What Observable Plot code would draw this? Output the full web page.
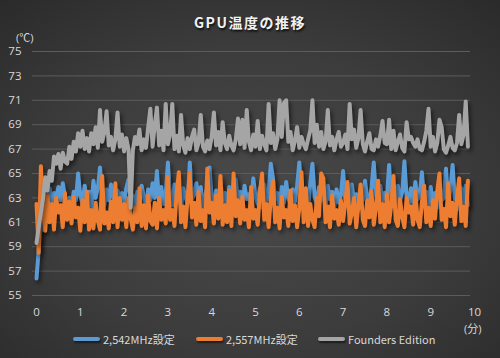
<!DOCTYPE html>
<html><head><meta charset="utf-8">
<script src="https://cdn.jsdelivr.net/npm/d3@7"></script>
<script src="https://cdn.jsdelivr.net/npm/@observablehq/plot@0.6"></script>
<style>
html,body{margin:0;padding:0;}
#wrap{position:relative;width:500px;height:358px;overflow:hidden;
 background:radial-gradient(ellipse 75% 75% at 50% 55%, #4a4a4a 0%, #3c3c3c 55%, #2a2a2a 100%);
 font-family:"Open Sans","Noto Sans CJK JP",sans-serif;color:#d9d9d9;}
#chart{position:absolute;left:0;top:0;}
#title{position:absolute;left:0;width:500px;top:12px;text-align:center;font-size:14px;font-weight:bold;color:#f2f2f2;letter-spacing:1.5px;text-shadow:1px 2px 2px rgba(0,0,0,.7);font-family:"Noto Sans CJK JP",sans-serif;}
.lbl{position:absolute;font-size:11px;color:#d9d9d9;white-space:nowrap;}
.leg{position:absolute;top:331px;font-size:11px;color:#d9d9d9;white-space:nowrap;display:flex;align-items:center;font-family:"Noto Sans CJK JP",sans-serif;}
.sw{display:inline-block;width:27px;height:4px;border-radius:2px;margin-right:3px;box-shadow:1px 2px 2px rgba(0,0,0,.5);}
g[aria-label="line"]{filter:drop-shadow(2px 3px 2px rgba(0,0,0,0.55));}
</style></head>
<body><div id="wrap"><div id="chart"></div><div id="title"></div><div id="unitY" class="lbl" style="left:16px;top:29px;"></div><div id="unitX" class="lbl" style="left:464px;top:320px;"></div><div id="legend"></div></div>
<script>
const titleText = "GPU温度の推移";
const unitYText = "(℃)";
const unitXText = "(分)";
const intervalMin = 0.05; // sampling interval in minutes
const xTicks = [0,1,2,3,4,5,6,7,8,9,10];
const yTicks = [55,57,59,61,63,65,67,69,71,73,75];
const seriesNames = ["2,542MHz設定","2,557MHz設定","Founders Edition"];
const seriesColors = ["#5b9bd5","#ed7d31","#a5a5a5"];

const blue = [
56.4,58.7,60.9,60.4,63.6,62.9,63.8,62.5,63.4,63.0,63.9,62.8,64.2,63.1,62.6,63.0,62.4,63.5,62.8,65.0,
63.2,62.5,64.0,62.8,63.5,62.2,64.4,63.0,63.8,65.5,63.1,62.4,63.7,62.8,64.1,63.0,62.5,63.6,62.9,63.4,
62.6,63.8,64.5,62.9,63.2,62.0,63.5,62.7,64.0,63.1,62.4,63.7,62.8,64.2,63.0,65.2,62.6,63.9,62.5,63.3,
65.9,63.0,62.4,64.1,62.7,63.5,62.2,63.8,63.1,62.5,65.9,62.9,63.3,64.2,62.6,63.9,62.3,63.1,64.0,65.5,
63.0,62.4,63.6,62.1,64.3,62.8,63.4,62.0,63.9,62.6,63.2,64.5,62.7,63.5,62.2,64.0,62.9,63.3,62.5,64.6,
63.1,62.5,63.8,62.2,64.1,62.8,63.5,65.8,64.6,62.9,63.4,62.3,63.9,62.6,64.3,63.0,62.4,63.7,62.7,64.0,
65.9,63.0,62.4,63.6,62.1,64.2,65.8,63.1,62.5,63.9,62.8,63.4,62.2,64.0,62.9,63.5,62.3,63.7,62.6,63.2,
65.2,62.9,63.8,62.4,64.1,62.7,63.3,62.0,63.6,62.8,64.4,63.0,62.5,63.9,65.9,63.2,62.6,64.0,62.8,63.4,
63.0,65.7,62.7,63.6,62.2,64.0,62.8,63.5,66.0,63.1,62.4,63.8,62.6,64.3,62.9,63.2,65.1,62.7,63.5,62.3,
63.9,62.6,63.4,62.2,64.1,62.8,63.0,65.4,62.5,63.7,65.7,62.9,63.3,62.1,63.8,62.6,64.0,62.4
];
const orange = [
62.5,58.5,65.6,62.0,60.3,63.2,61.0,62.5,60.4,63.0,61.8,62.4,60.6,63.4,61.2,62.7,60.9,63.1,61.4,62.2,
60.3,62.8,61.0,63.5,60.4,62.0,60.5,62.6,61.1,60.4,64.8,60.9,61.8,60.5,62.7,61.0,64.2,60.6,63.0,61.2,
62.5,60.6,63.0,61.3,60.4,62.2,61.0,63.8,60.7,62.4,60.5,63.2,61.1,60.8,62.6,60.5,63.0,61.2,62.0,60.9,
64.7,61.2,62.0,60.7,63.4,65.1,61.0,62.3,60.6,63.0,65.0,61.4,62.6,60.8,63.5,61.1,62.0,60.6,65.4,61.8,
62.6,60.9,63.2,61.3,64.8,60.8,62.4,61.0,63.6,60.7,65.0,61.5,62.8,60.9,63.1,61.2,62.0,60.6,63.9,61.3,
62.0,60.8,63.4,65.0,61.2,62.5,60.6,63.0,64.4,61.0,62.2,60.5,63.1,61.4,62.0,60.7,63.6,61.1,62.4,60.6,
62.2,65.1,61.0,63.8,60.7,62.5,61.2,60.6,63.0,61.5,65.0,64.6,61.0,62.3,60.6,63.2,61.3,62.0,60.8,62.8,
61.1,62.6,64.3,60.9,61.8,63.0,60.6,62.4,64.1,61.2,60.7,62.8,61.4,63.5,60.8,62.2,64.4,61.0,62.5,60.6,
63.3,61.0,62.4,64.8,61.2,60.7,62.9,61.4,60.6,63.0,61.8,62.3,60.8,63.5,61.2,60.6,62.7,64.0,61.0,62.2,
60.7,62.8,61.3,63.6,65.0,61.2,62.1,60.6,64.2,61.5,62.6,60.8,63.0,64.6,61.1,62.3,60.7,64.4
];
const gray = [
59.3,60.6,61.8,63.0,64.7,63.6,65.2,64.4,66.4,65.8,66.6,65.4,66.7,66.0,65.8,67.2,66.2,67.6,66.8,68.3,
67.2,68.5,67.0,67.9,66.8,68.3,67.4,68.8,67.1,70.2,67.6,68.4,70.1,67.3,68.0,66.9,67.8,70.0,67.2,68.2,
66.8,67.9,67.0,62.2,66.9,68.0,67.4,68.6,66.9,67.8,67.1,68.8,70.3,67.2,69.0,70.4,67.3,68.5,66.9,70.7,
67.4,68.2,70.7,67.0,68.1,66.8,69.8,67.3,66.7,67.9,67.0,68.0,68.6,66.9,67.5,69.8,67.2,66.8,67.7,67.0,
68.0,70.0,67.3,68.4,66.9,69.2,67.5,67.0,68.1,67.3,66.9,67.8,69.5,67.4,69.4,67.1,70.2,67.6,66.9,68.2,
67.2,69.3,67.0,68.1,67.4,66.9,70.7,67.5,68.3,67.0,67.8,71.0,68.0,70.8,71.0,67.6,68.4,66.9,67.7,68.8,
67.1,68.0,67.4,67.0,67.8,68.5,71.0,67.5,69.0,67.2,68.4,67.0,67.6,70.2,67.3,68.0,66.9,67.8,68.4,67.2,
67.5,68.2,67.0,70.7,67.8,68.6,67.1,67.9,70.2,67.4,66.8,67.6,68.3,67.0,66.9,67.8,67.2,68.1,69.3,67.5,
67.4,69.4,67.0,68.5,66.9,67.6,68.2,67.1,66.8,69.2,67.8,68.0,67.5,67.2,67.8,67.0,66.9,67.6,68.5,70.3,
67.2,68.0,66.8,67.5,69.4,68.8,67.0,66.7,67.3,68.0,67.1,66.9,67.5,69.8,67.4,68.2,70.9,67.2
];

const seriesValues = [blue, orange, gray];
const toRows = (vals, name) => vals.map((v, i) => ({t: i * intervalMin, v, name}));

const lineMarks = seriesValues.map((vals, k) =>
  Plot.line(toRows(vals, seriesNames[k]), {x: "t", y: "v", stroke: seriesColors[k], strokeWidth: 4, strokeLinejoin: "round", strokeLinecap: "round"})
);

const chart = Plot.plot({
  width: 500, height: 358,
  marginTop: 51, marginBottom: 63, marginLeft: 36, marginRight: 26,
  style: {background: "transparent", color: "#d9d9d9", fontSize: "11.5px", fontFamily: "'Open Sans','Noto Sans CJK JP',sans-serif"},
  x: {domain: [0, 10], ticks: xTicks, tickSize: 0, tickPadding: 12, label: null, tickFormat: d => String(d)},
  y: {domain: [55, 75], ticks: yTicks, tickSize: 0, tickPadding: 15, label: null, tickFormat: d => String(d)},
  marks: [
    Plot.ruleY(yTicks, {stroke: "#5c5c5c", strokeWidth: 1, insetLeft: -4, insetRight: 4}),
    ...lineMarks
  ]
});
document.getElementById("chart").appendChild(chart);
document.getElementById("title").textContent = titleText;
document.getElementById("unitY").textContent = unitYText;
document.getElementById("unitX").textContent = unitXText;

const legendLeft = [73, 196, 318];
const legend = document.getElementById("legend");
seriesNames.forEach((n, k) => {
  const d = document.createElement("div");
  d.className = "leg";
  d.style.left = legendLeft[k] + "px";
  const s = document.createElement("span");
  s.className = "sw"; s.style.background = seriesColors[k];
  const t = document.createElement("span");
  t.textContent = n;
  d.appendChild(s); d.appendChild(t);
  legend.appendChild(d);
});
</script></body></html>
